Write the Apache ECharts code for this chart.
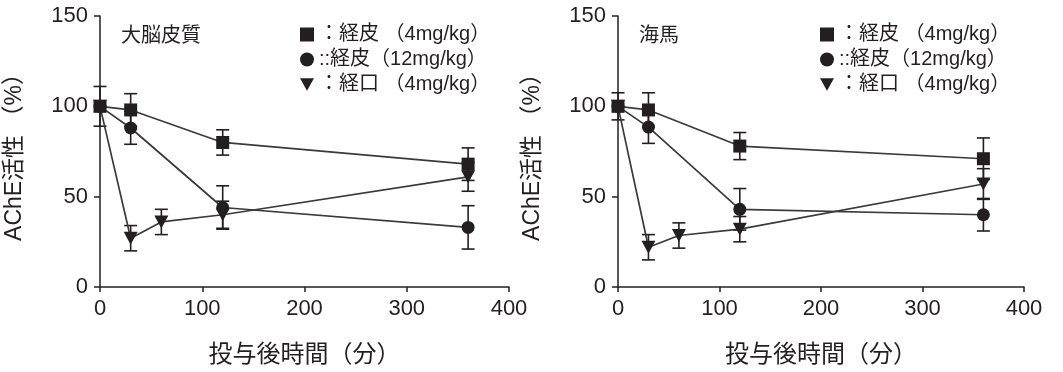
<!DOCTYPE html>
<html><head><meta charset="utf-8">
<script src="https://cdn.jsdelivr.net/npm/echarts@6/dist/echarts.min.js"></script>
<style>html,body{margin:0;padding:0;background:#fff}#c{width:1063px;height:372px}</style>
</head><body><div id="c"></div>
<script>
// ---- data ----
const timesSq = [0, 30, 120, 360];
const timesCi = [0, 30, 120, 360];
const timesTri = [0, 30, 60, 120, 360];

const cortexSq = [100, 98, 80, 68];
const cortexSqErr = [11, 9, 7, 9];
const cortexCi = [100, 88, 44, 33];
const cortexCiErr = [0, 9, 12, 12];
const cortexTri = [100, 27, 36, 40, 61];
const cortexTriErr = [0, 7, 7, 7.5, 8];

const hippoSq = [100, 98, 78, 71];
const hippoSqErr = [7.5, 9.5, 7.5, 11.5];
const hippoCi = [100, 88.5, 43, 40];
const hippoCiErr = [0, 9, 11.5, 9];
const hippoTri = [100, 22, 28.5, 32, 57];
const hippoTriErr = [0, 7, 7, 7, 8.5];

const xTicks = [0, 100, 200, 300, 400];
const yTicks = [0, 50, 100, 150];
const panelTitles = ['大脳皮質', '海馬'];
const seriesNames = ['：経皮 （4mg/kg）', '::経皮（12mg/kg）', '：経口 （4mg/kg）'];
const xName = '投与後時間（分）';
const yName = 'AChE活性 （%）';

// ---- style ----
const INK = '#231f20';
const FONT = "'Liberation Sans', 'Noto Sans CJK JP', sans-serif";
const TRI = 'path://M0,0L10,0L5,9Z';
const symbols = ['rect', 'circle', TRI];
const symSizes = [13, 13, [14, 13]];

function pairs(xs, ys) { return xs.map((x, i) => [x, ys[i]]); }
function errTriples(xs, ys, es) { return xs.map((x, i) => [x, ys[i], es[i]]).filter(d => d[2] > 0); }

function errSeries(idx, data) {
  return {
    type: 'custom', xAxisIndex: idx, yAxisIndex: idx, z: 1, silent: true,
    data: data,
    renderItem: function (params, api) {
      const x = api.value(0), y = api.value(1), e = api.value(2);
      const top = api.coord([x, y + e]);
      const bot = api.coord([x, y - e]);
      const hw = 6.5;
      const st = { stroke: INK, lineWidth: 1.6 };
      return { type: 'group', children: [
        { type: 'line', shape: { x1: top[0], y1: top[1], x2: bot[0], y2: bot[1] }, style: st },
        { type: 'line', shape: { x1: top[0] - hw, y1: top[1], x2: top[0] + hw, y2: top[1] }, style: st },
        { type: 'line', shape: { x1: bot[0] - hw, y1: bot[1], x2: bot[0] + hw, y2: bot[1] }, style: st }
      ]};
    }
  };
}

function lineSeries(idx, k, data) {
  return {
    name: seriesNames[k], type: 'line', xAxisIndex: idx, yAxisIndex: idx, z: 3,
    data: data, symbol: symbols[k], symbolSize: symSizes[k],
    showAllSymbol: true,
    itemStyle: { color: INK, borderWidth: 0 },
    lineStyle: { color: '#3a3a3a', width: 1.7 },
    emphasis: { disabled: true }, animation: false
  };
}

function xAxis(idx) {
  return {
    type: 'value', gridIndex: idx, min: 0, max: 400, interval: 100,
    name: xName, nameLocation: 'middle', nameGap: 56,
    nameTextStyle: { color: INK, fontSize: 24, fontFamily: FONT },
    axisLine: { lineStyle: { color: INK, width: 1.5 } },
    axisTick: { show: true, length: 5, lineStyle: { color: INK, width: 1.5 } },
    axisLabel: { color: INK, fontSize: 22, fontFamily: FONT, margin: 11,
      formatter: v => xTicks.includes(v) ? String(v) : '' },
    splitLine: { show: false }
  };
}
function yAxis(idx) {
  return {
    type: 'value', gridIndex: idx, min: 0, max: 150, interval: 50,
    name: yName, nameLocation: 'middle', nameGap: 74,
    nameTextStyle: { color: INK, fontSize: 23, fontFamily: FONT },
    axisLine: { show: true, lineStyle: { color: INK, width: 1.5 } },
    axisTick: { show: true, length: 6, lineStyle: { color: INK, width: 1.5 } },
    axisLabel: { color: INK, fontSize: 22, fontFamily: FONT, margin: 12,
      formatter: v => yTicks.includes(v) ? String(v) : '' },
    splitLine: { show: false }
  };
}

function legend(left) {
  return {
    left: left, top: 19, orient: 'vertical', itemGap: 4,
    itemWidth: 14, itemHeight: 14, selectedMode: false,
    textStyle: { color: INK, fontSize: 20, fontFamily: FONT, lineHeight: 21 },
    data: seriesNames.map((n, k) => ({ name: n, icon: k === 2 ? TRI : (k === 0 ? 'rect' : 'circle'),
      itemStyle: { color: INK } }))
  };
}

const chart = echarts.init(document.getElementById('c'), null, { renderer: 'canvas' });
chart.setOption({
  animation: false,
  backgroundColor: '#fff',
  title: [
    { text: panelTitles[0], left: 116, top: 21, textStyle: { color: INK, fontSize: 20, fontWeight: 'normal', fontFamily: FONT } },
    { text: panelTitles[1], left: 634, top: 21, textStyle: { color: INK, fontSize: 20, fontWeight: 'normal', fontFamily: FONT } }
  ],
  legend: [legend(295), legend(815)],
  grid: [
    { left: 100, top: 16, width: 409, height: 277 },
    { left: 618, top: 16, width: 406, height: 277 }
  ],
  xAxis: [xAxis(0), xAxis(1)],
  yAxis: [yAxis(0), yAxis(1)],
  series: [
    errSeries(0, errTriples(timesSq, cortexSq, cortexSqErr)),
    errSeries(0, errTriples(timesCi, cortexCi, cortexCiErr)),
    errSeries(0, errTriples(timesTri, cortexTri, cortexTriErr)),
    lineSeries(0, 0, pairs(timesSq, cortexSq)),
    lineSeries(0, 1, pairs(timesCi, cortexCi)),
    lineSeries(0, 2, pairs(timesTri, cortexTri)),
    errSeries(1, errTriples(timesSq, hippoSq, hippoSqErr)),
    errSeries(1, errTriples(timesCi, hippoCi, hippoCiErr)),
    errSeries(1, errTriples(timesTri, hippoTri, hippoTriErr)),
    lineSeries(1, 0, pairs(timesSq, hippoSq)),
    lineSeries(1, 1, pairs(timesCi, hippoCi)),
    lineSeries(1, 2, pairs(timesTri, hippoTri))
  ]
});
</script></body></html>
